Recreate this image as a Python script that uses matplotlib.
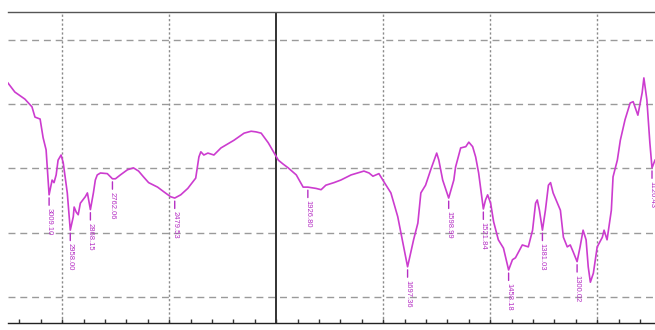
#!/usr/bin/python3

import matplotlib
matplotlib.use("Agg")
import matplotlib.pyplot as plt
import numpy as np


# wavenumber (cm-1) and transmittance (%)
wavenumber = [
    3253, 3221, 3174, 3141, 3127, 3103, 3089, 3075, 3061, 3047,
    3038, 3028, 3019, 3005, 2995, 2976, 2962, 2948, 2944, 2934,
    2925, 2915, 2892, 2882, 2868, 2854, 2845, 2836, 2821, 2789,
    2765, 2751, 2728, 2695, 2667, 2643, 2620, 2596, 2554, 2526,
    2493, 2474, 2446, 2413, 2376, 2361, 2352, 2338, 2319, 2291,
    2258, 2197, 2150, 2117, 2094, 2070, 2037,
    1995, 1984, 1972, 1953, 1937, 1926, 1907, 1895, 1884, 1865,
    1849, 1825, 1795, 1783, 1774, 1760, 1748, 1732, 1716, 1704,
    1693, 1679, 1669, 1662, 1651, 1639, 1625, 1620, 1611, 1597,
    1585, 1581, 1569, 1557, 1550, 1541, 1534, 1527, 1516, 1511,
    1506, 1499, 1492, 1481, 1469, 1457, 1448, 1441, 1425, 1411,
    1401, 1394, 1390, 1385, 1378, 1371, 1364, 1359, 1353, 1343,
    1336, 1329, 1320, 1313, 1306, 1297, 1290, 1283, 1276, 1271,
    1266, 1259, 1250, 1238, 1234, 1227, 1217, 1213, 1203, 1196,
    1185, 1173, 1166, 1155, 1145, 1141, 1134, 1127, 1122, 1115,
]
transmittance = [
    83.3, 81.9, 80.8, 79.6, 78.0, 77.7, 74.8, 72.9, 65.9, 68.2,
    67.8, 69.0, 71.3, 72.1, 70.9, 66.2, 60.4, 62.5, 64.0, 63.2,
    62.8, 64.6, 65.6, 66.2, 63.6, 66.2, 68.2, 69.0, 69.3, 69.2,
    68.4, 68.4, 69.0, 69.8, 70.1, 69.6, 68.7, 67.8, 67.1, 66.4,
    65.6, 65.4, 65.9, 66.9, 68.5, 71.8, 72.6, 72.1, 72.4, 72.1,
    73.2, 74.4, 75.5, 75.8, 75.7, 75.5, 74.0,
    71.3, 70.7, 70.1, 69.0, 67.1, 67.1, 66.9, 66.7, 67.4, 67.8,
    68.2, 69.0, 69.6, 69.3, 68.8, 69.2, 67.9, 66.2, 62.5, 58.4,
    54.7, 58.9, 61.5, 66.2, 67.4, 69.8, 72.4, 71.3, 68.2, 65.4,
    68.2, 70.2, 73.2, 73.4, 74.1, 73.4, 71.8, 69.3, 63.7, 65.1,
    65.9, 64.6, 61.7, 58.9, 57.6, 54.2, 55.8, 56.1, 58.1, 57.8,
    60.4, 64.6, 65.1, 63.5, 60.4, 63.5, 67.4, 67.8, 66.2, 64.6,
    63.5, 59.3, 57.8, 58.1, 57.0, 55.5, 57.8, 60.4, 58.9, 54.7,
    52.3, 53.7, 57.8, 59.3, 60.4, 58.9, 63.5, 68.7, 71.3, 74.4,
    77.6, 80.2, 80.4, 78.3, 81.8, 84.1, 80.7, 74.0, 70.1, 71.3,
]

# peak labels and the wavenumber where each marker sits
peak_labels = ["3009.10", "2958.00", "2868.15", "2762.06", "2479.53",
               "1926.80", "1697.36", "1598.99", "1521.84", "1458.18",
               "1381.03", "1300.02", "1126.43"]
peak_positions = [3061, 2962, 2868, 2765, 2474,
                  1926, 1693, 1597, 1516, 1457,
                  1378, 1297, 1122]

grid_wavenumbers = [3000, 2500, 1750, 1500, 1250]
grid_levels = [50, 60, 70, 80, 90]

LINE_COLOR = "#cc3ccf"
TEXT_COLOR = "#b52fc4"


def forward(x):
    """Break at 2000 cm-1: 500 cm-1 per division above, 250 below."""
    x = np.asarray(x, dtype=float)
    return np.where(x >= 2000, x / 500.0, 4.0 + (x - 2000.0) / 250.0)


def inverse(u):
    u = np.asarray(u, dtype=float)
    return np.where(u >= 4.0, u * 500.0, 2000.0 + (u - 4.0) * 250.0)


def draw_spectrum():
    fig = plt.figure(figsize=(6.55, 3.30), dpi=100)
    ax = fig.add_axes([8 / 655, 1 - 323 / 330, 1 - 8 / 655, 311 / 330])

    ax.set_xscale("function", functions=(forward, inverse))
    ax.set_xlim(3253, 1115)
    ax.set_ylim(45.95, 94.36)

    # grid
    for g in grid_levels:
        ax.axhline(g, color="#9a9a9a", lw=1.0, dashes=(5, 3.5), zorder=1)
    for g in grid_wavenumbers:
        ax.axvline(g, color="#8a8a8a", lw=1.0, dashes=(1.6, 1.6), zorder=1)
    ax.axvline(2000, color="#222222", lw=1.3, zorder=1)

    ax.plot(wavenumber, transmittance, color=LINE_COLOR, lw=1.2, zorder=3)

    wn = np.array(wavenumber[::-1])
    tr = np.array(transmittance[::-1])
    for text, pos in zip(peak_labels, peak_positions):
        y = np.interp(pos, wn, tr)
        ax.annotate(text, xy=(pos, y), xytext=(0, -9.5),
                    textcoords="offset points", rotation=270,
                    ha="center", va="top", fontsize=5.5,
                    family=["Liberation Sans", "DejaVu Sans"],
                    color=TEXT_COLOR, zorder=4,
                    arrowprops=dict(arrowstyle="-", color=TEXT_COLOR, lw=1.0,
                                    shrinkA=0, shrinkB=2.2,
                                    relpos=(0.5, 1.0)))

    # ticks every 100 cm-1 above 2000, every 50 below
    ticks = list(range(3200, 2000, -100)) + list(range(2000, 1100, -50))
    ax.set_xticks(ticks, [""] * len(ticks))
    ax.xaxis.set_minor_locator(matplotlib.ticker.NullLocator())
    ax.tick_params(axis="x", direction="in", length=3, width=1,
                   color="#333333")
    ax.set_yticks([])

    ax.spines["left"].set_visible(False)
    ax.spines["right"].set_visible(False)
    ax.spines["top"].set_color("#555555")
    ax.spines["top"].set_linewidth(1.0)
    ax.spines["bottom"].set_color("#222222")
    ax.spines["bottom"].set_linewidth(1.0)

    fig.savefig("out.png", dpi=100)


def main():
    draw_spectrum()


if __name__ == "__main__":
    main()
